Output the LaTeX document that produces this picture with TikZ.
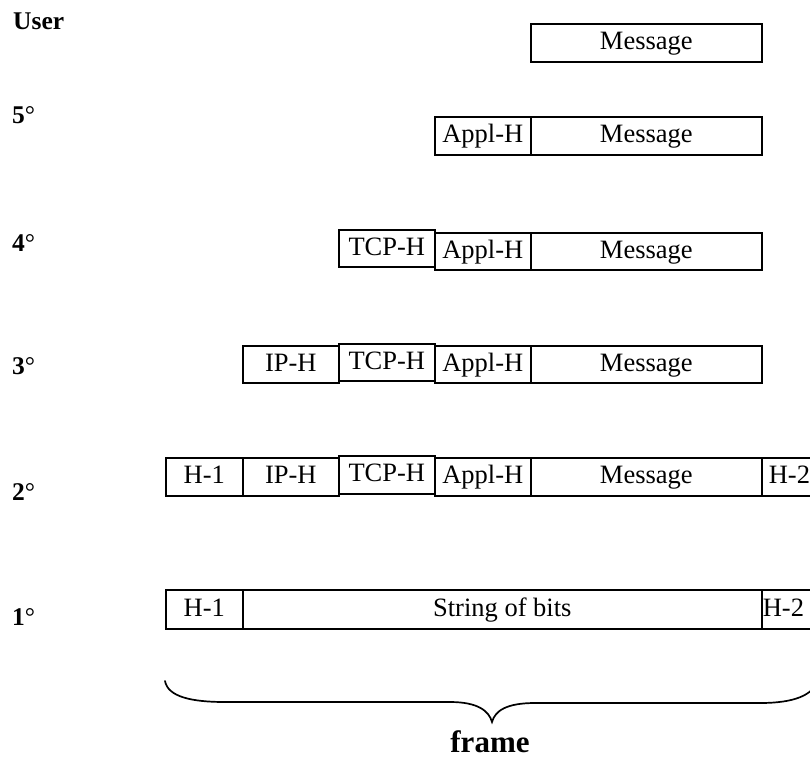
\documentclass[tikz,border=0pt]{standalone}
\usepackage{fontspec}
\setmainfont{Liberation Serif}
\begin{document}
\begin{tikzpicture}[x=1pt,y=-1pt,
  cell/.style={draw, line width=1.6pt, inner sep=0pt, anchor=north west,
    text height=20pt, text depth=6pt, font=\fontsize{26.5}{30}\selectfont},
  tail/.style={cell, align=left, minimum width=60pt},
  lvl/.style={anchor=base west, inner sep=0pt, font=\fontsize{25.5}{30}\selectfont},
  bracestroke/.style={line width=1.7pt, line cap=round}]
\useasboundingbox (0,0) rectangle (810,758);
\clip (0,0) rectangle (810,758);

% layer labels
\node[lvl] (lUser) at (13,29) {\bfseries User};
\node[lvl] (l5) at (12,123) {\textbf{5}°};
\node[lvl] (l4) at (12,251) {\textbf{4}°};
\node[lvl] (l3) at (12,374) {\textbf{3}°};
\node[lvl] (l2) at (12,500) {\textbf{2}°};
\node[lvl] (l1) at (12,625) {\textbf{1}°};

% user
\node[cell, minimum width=231pt, minimum height=38pt] (uMsg) at (530,23) {Message};

% layer 5
\node[cell, minimum width=96pt, minimum height=38pt] (r5Appl) at (434,116) {Appl-H};
\node[cell, minimum width=231pt, minimum height=38pt] (r5Msg) at (530,116) {Message};

% layer 4
\node[cell, minimum width=96pt, minimum height=37pt] (r4Tcp) at (338,229) {TCP-H};
\node[cell, minimum width=96pt, minimum height=37pt] (r4Appl) at (434,232) {Appl-H};
\node[cell, minimum width=231pt, minimum height=37pt] (r4Msg) at (530,232) {Message};

% layer 3
\node[cell, minimum width=96pt, minimum height=37pt] (r3Ip) at (242,345) {IP-H};
\node[cell, minimum width=96pt, minimum height=37pt] (r3Tcp) at (338,343) {TCP-H};
\node[cell, minimum width=96pt, minimum height=37pt] (r3Appl) at (434,345) {Appl-H};
\node[cell, minimum width=231pt, minimum height=37pt] (r3Msg) at (530,345) {Message};

% layer 2
\node[cell, minimum width=77pt, minimum height=38pt] (r2H1) at (165,457) {H-1};
\node[cell, minimum width=96pt, minimum height=38pt] (r2Ip) at (242,457) {IP-H};
\node[cell, minimum width=96pt, minimum height=38pt] (r2Tcp) at (338,455) {TCP-H};
\node[cell, minimum width=96pt, minimum height=38pt] (r2Appl) at (434,457) {Appl-H};
\node[cell, minimum width=231pt, minimum height=38pt] (r2Msg) at (530,457) {Message};
\node[tail, minimum height=38pt, inner xsep=7pt, text width=46pt] (r2H2) at (761,457) {H-2};

% layer 1
\node[cell, minimum width=77pt, minimum height=39pt] (r1H1) at (165,589) {H-1};
\node[cell, minimum width=519pt, minimum height=39pt] (r1Bits) at (242,589) {String of bits};
\node[tail, minimum height=39pt, inner xsep=1pt, text width=58pt] (r1H2) at (761,589) {H-2};

% brace spanning the whole frame
\coordinate (bl) at (165,681);
\coordinate (bt) at (492,722);
\coordinate (br) at (818,681);
\draw[bracestroke] (bl) .. controls (168,697) and (192,702) .. (225,702)
  -- (450,702) .. controls (478,702) and (489,711) .. (bt)
  .. controls (495,711) and (506,703) .. (535,703)
  -- (760,703) .. controls (795,703) and (812,695) .. (br);
\node[anchor=base, inner sep=0pt, font=\fontsize{31}{34}\selectfont\bfseries] (frame) at (490,752) {frame};
\end{tikzpicture}
\end{document}
